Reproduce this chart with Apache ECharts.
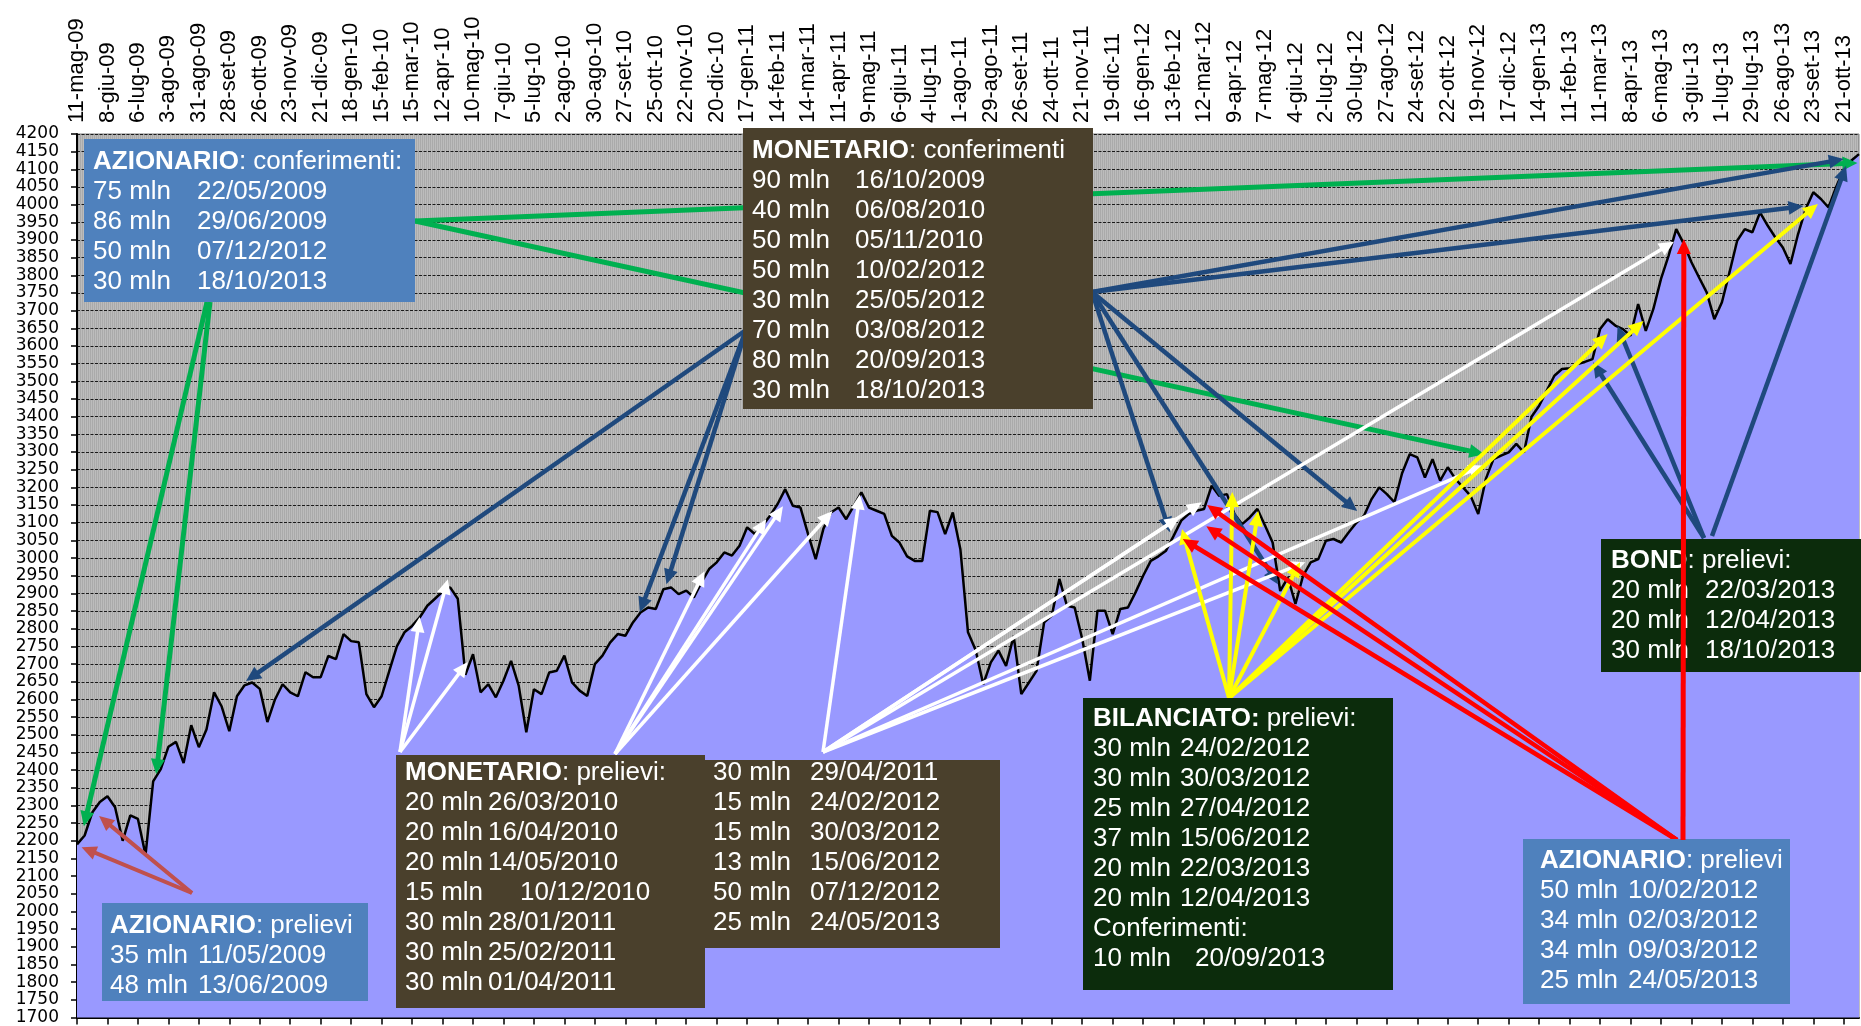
<!DOCTYPE html>
<html><head><meta charset="utf-8">
<script src="https://cdn.jsdelivr.net/npm/echarts@6/dist/echarts.min.js"></script>
<style>html,body{margin:0;padding:0;background:#fff;}#c{width:1861px;height:1026px;}</style>
</head><body><div id="c"></div>
<script>
// ---------------- DATA ----------------
const startDateUTC = [2009, 4, 11];           // first weekly observation: 11-mag-09
const monthNames = ['gen','feb','mar','apr','mag','giu','lug','ago','set','ott','nov','dic'];
const yMin = 1700, yMax = 4200, yStep = 50;
const labelEvery = 4;                          // a tick label every 4 weeks

const weekValues = [
2190,2215,2280,2310,2326,2295,2200,2272,2262,2160,
2368,2403,2466,2480,2420,2527,2465,2515,2620,2580,
2510,2609,2640,2648,2630,2536,2600,2643,2620,2609,
2677,2663,2663,2723,2714,2785,2765,2762,2615,2578,
2609,2680,2750,2790,2808,2832,2865,2885,2905,2917,
2885,2670,2728,2620,2643,2606,2653,2709,2639,2507,
2629,2615,2676,2681,2724,2648,2625,2610,2700,2724,
2761,2785,2780,2818,2846,2860,2856,2912,2917,2898,
2908,2889,2931,2969,2988,3016,3007,3035,3087,3068,
3091,3120,3153,3195,3148,3143,3068,2997,3082,3129,
3143,3110,3148,3186,3143,3134,3125,3063,3044,3005,
2992,2992,3134,3130,3068,3129,3025,2790,2740,2643,
2705,2738,2695,2780,2615,2648,2681,2818,2837,2941,
2865,2860,2771,2653,2851,2851,2785,2856,2860,2903,
2950,2992,3005,3021,3063,3106,3125,3134,3139,3205,
3176,3181,3124,3096,3115,3139,3092,3044,2907,2945,
2870,2950,2988,2997,3049,3054,3044,3073,3100,3120,
3167,3200,3181,3158,3240,3294,3285,3228,3280,3219,
3257,3224,3200,3176,3125,3224,3280,3290,3299,3323,
3299,3400,3431,3474,3516,3535,3537,3549,3555,3563,
3648,3676,3658,3648,3629,3719,3643,3705,3790,3856,
3931,3889,3837,3794,3752,3676,3724,3809,3898,3931,
3922,3978,3941,3908,3879,3832,3917,3988,4035,4016,
3992,4050,4100,4125,4143
];

// annotation box texts
const azConfTitle = ['AZIONARIO', ': conferimenti:'];
const azConfRows = [['75 mln','22/05/2009'],['86 mln','29/06/2009'],['50 mln','07/12/2012'],['30 mln','18/10/2013']];
const azPrelTitle = ['AZIONARIO', ': prelievi'];
const azPrelRows = [['35 mln','11/05/2009'],['48 mln','13/06/2009']];
const monConfTitle = ['MONETARIO', ': conferimenti'];
const monConfRows = [['90 mln','16/10/2009'],['40 mln','06/08/2010'],['50 mln','05/11/2010'],['50 mln','10/02/2012'],['30 mln','25/05/2012'],['70 mln','03/08/2012'],['80 mln','20/09/2013'],['30 mln','18/10/2013']];
const monPrelTitle = ['MONETARIO', ': prelievi:'];
const monPrelRows = [['20 mln','26/03/2010'],['20 mln','16/04/2010'],['20 mln','14/05/2010'],['15 mln','10/12/2010'],['30 mln','28/01/2011'],['30 mln','25/02/2011'],['30 mln','01/04/2011']];
const monPrel2Rows = [['30 mln','29/04/2011'],['15 mln','24/02/2012'],['15 mln','30/03/2012'],['13 mln','15/06/2012'],['50 mln','07/12/2012'],['25 mln','24/05/2013']];
const bilTitle = ['BILANCIATO:', ' prelievi:'];
const bilRows = [['30 mln','24/02/2012'],['30 mln','30/03/2012'],['25 mln','27/04/2012'],['37 mln','15/06/2012'],['20 mln','22/03/2013'],['20 mln','12/04/2013'],['Conferimenti:',''],['10 mln','20/09/2013']];
const bondTitle = ['BOND', ': prelievi:'];
const bondRows = [['20 mln','22/03/2013'],['20 mln','12/04/2013'],['30 mln','18/10/2013']];
const azPrel2Title = ['AZIONARIO', ': prelievi'];
const azPrel2Rows = [['50 mln','10/02/2012'],['34 mln','02/03/2012'],['34 mln','09/03/2012'],['25 mln','24/05/2013']];

// arrow targets in data space: [week index, value]
const salmonTargets = [[0.6,2182],[2.9,2270]];
const greenTargetsDown = [[0.9,2241],[10.4,2389]];
const greenTargetsRight = [[233.8,4118],[184.8,3294]];
const blueTargetsLeft = [[22.2,2652],[73.9,2847],[77.4,2926]];
const blueTargetsRight = [[232,4129],[226.7,3996],[168.1,3133],[157.7,2926],[143.5,3073]];
const bondTargets = [[199.1,3554],[202.3,3657],[232.3,4110]];
const redVerticalTarget = [211,3903];
const redTargets = [[145.2,3054],[148.4,3150],[148.3,3090]];
const whiteTargetsA = [[45,2833],[48.7,2940],[51.3,2706]];
const whiteTargetsB = [[82.4,2963],[90.5,3110],[92.7,3147],[99.2,3133]];
const whiteTargetsC = [[102.8,3180],[144.8,3116],[147.7,3158],[161.3,2988],[184.7,3262],[209.7,3895]];
const yellowTargets = [[145.1,3082],[151.7,3187],[155.1,3133],[160.6,2988],[201,3634],[205.7,3671],[228.6,4002]];

// ---------------- CHART ----------------
const categories = weekValues.map((_, i) => {
  const d = new Date(Date.UTC(startDateUTC[0], startDateUTC[1], startDateUTC[2]) + i * 7 * 86400000);
  return d.getUTCDate() + '-' + monthNames[d.getUTCMonth()] + '-' + String(d.getUTCFullYear()).slice(2);
});

const pc = document.createElement('canvas'); pc.width = 2; pc.height = 2;
const pg = pc.getContext('2d');
pg.fillStyle = '#bcbcbc'; pg.fillRect(0,0,2,2);
pg.fillStyle = '#aaaaaa'; pg.fillRect(0,0,1,2);

const AXFONT = '"DejaVu Sans", sans-serif';
const ARIAL = '"Liberation Sans", Arial, sans-serif';
const BOXFS = 26;
const chart = echarts.init(document.getElementById('c'), null, {renderer: 'canvas'});
chart.setOption({
  animation: false,
  backgroundColor: '#ffffff',
  grid: {left: 77, right: 2, top: 134, bottom: 7, show: true,
         backgroundColor: {image: pc, repeat: 'repeat'}, borderColor: '#7f7f7f', borderWidth: 1},
  xAxis: [
    {type: 'category', data: categories, boundaryGap: false, position: 'bottom',
     axisLine: {show: true, lineStyle: {color: '#000', width: 2}},
     axisTick: {show: true, interval: labelEvery - 1, length: 7, lineStyle: {color: '#000', width: 1.5}},
     axisLabel: {show: false}, splitLine: {show: false}},
    {type: 'category', data: categories, boundaryGap: false, position: 'top',
     axisLine: {show: false}, axisTick: {show: false}, splitLine: {show: false},
     axisLabel: {show: true, interval: labelEvery - 1, rotate: -90, margin: 11,
                 fontSize: 22, fontFamily: ARIAL, color: '#000'}},
    {type: 'value', min: 0, max: weekValues.length - 1, show: false}
  ],
  yAxis: {type: 'value', min: yMin, max: yMax, interval: yStep,
    axisLine: {show: true, lineStyle: {color: '#000', width: 2}},
    axisTick: {show: true, length: 6, lineStyle: {color: '#000', width: 1.5}},
    axisLabel: {fontSize: 17, lineHeight: 15, fontFamily: AXFONT, color: '#000', margin: 18, hideOverlap: false,
                showMinLabel: true, showMaxLabel: true, formatter: v => String(v)},
    splitLine: {show: true, lineStyle: {color: '#1a1a1a', width: 1, type: [3, 1.5]}}},
  series: [{
    type: 'line', xAxisIndex: 0, yAxisIndex: 0, data: weekValues, symbol: 'none',
    lineStyle: {color: '#000', width: 2.5}, areaStyle: {color: '#9999ff', opacity: 1},
    silent: true, z: 2
  }]
});

// ---------------- ANNOTATIONS ----------------
const els = [];
function px(d) { return chart.convertToPixel({xAxisIndex: 2, yAxisIndex: 0}, d); }
function arrow(start, target, color, width, z) {
  const p = px(target);
  const L = 15, W = 7;
  const dx = p[0] - start[0], dy = p[1] - start[1];
  const len = Math.hypot(dx, dy), ux = dx / len, uy = dy / len;
  const bx = p[0] - ux * L, by = p[1] - uy * L;
  els.push({type: 'line', silent: true, z: z,
    shape: {x1: start[0], y1: start[1], x2: bx + ux * 2, y2: by + uy * 2},
    style: {stroke: color, lineWidth: width, lineCap: 'butt'}});
  els.push({type: 'polygon', silent: true, z: z,
    shape: {points: [[p[0], p[1]], [bx - uy * W, by + ux * W], [bx + uy * W, by - ux * W]]},
    style: {fill: color}});
}

const GREEN = '#00b050', NAVY = '#1f497d', RED = '#ff0000', SALMON = '#c0504d', WHITE = '#ffffff', YELLOW = '#ffff00';
salmonTargets.forEach(t => arrow([192, 893], t, SALMON, 4, 10));
greenTargetsDown.forEach((t, k) => arrow([207 + k * 3, 302], t, GREEN, 5, 10));
greenTargetsRight.forEach(t => arrow([415, 221], t, GREEN, 5, 10));
blueTargetsLeft.forEach(t => arrow([746, 330], t, NAVY, 4.5, 11));
blueTargetsRight.forEach(t => arrow([1092, 292], t, NAVY, 4.5, 11));
bondTargets.forEach((t, k) => arrow(k < 2 ? [1704, 538] : [1712, 536], t, NAVY, 4.5, 11));
whiteTargetsA.forEach(t => arrow([400, 752], t, WHITE, 3.5, 12));
whiteTargetsB.forEach(t => arrow([615, 754], t, WHITE, 3.5, 12));
whiteTargetsC.forEach(t => arrow([823, 752], t, WHITE, 3.5, 12));
yellowTargets.forEach(t => arrow([1229, 698], t, YELLOW, 4, 13));
redTargets.forEach(t => arrow([1677, 840], t, RED, 4.5, 14));

// boxes
const BOXZ = 20;
function box(rect, color) {
  els.push({type: 'rect', silent: true, z: BOXZ, shape: {x: rect[0], y: rect[1], width: rect[2] - rect[0], height: rect[3] - rect[1]},
    style: {fill: color}});
}
function txt(x, y, s) {
  els.push({type: 'text', silent: true, z: BOXZ + 1, x: x, y: y,
    style: {text: s, fill: '#fff', font: BOXFS + 'px ' + ARIAL, textAlign: 'left', textVerticalAlign: 'middle'}});
}
function title(x, y, t) {
  els.push({type: 'text', silent: true, z: BOXZ + 1, x: x, y: y,
    style: {text: '{b|' + t[0] + '}{n|' + t[1] + '}', textAlign: 'left', textVerticalAlign: 'middle',
      rich: {b: {fontWeight: 'bold', fontSize: BOXFS, fontFamily: ARIAL, fill: '#fff'},
             n: {fontSize: BOXFS, fontFamily: ARIAL, fill: '#fff'}}}});
}
function rows(list, x1, x2, y0, extra) {
  list.forEach((r, k) => {
    txt(x1, y0 + k * 30, r[0]);
    if (r[1]) txt((extra && extra[k]) ? extra[k] : x2, y0 + k * 30, r[1]);
  });
}
const BLUE = '#4f81bd', BROWN = '#4a402c', DKGREEN = '#0c2c0c';
box([84, 139, 415, 302], BLUE);  title(93, 162, azConfTitle); rows(azConfRows, 93, 197, 192);
box([102, 903, 368, 1001], BLUE); title(110, 926, azPrelTitle); rows(azPrelRows, 110, 198, 956);
box([743, 128, 1093, 409], BROWN); title(752, 151, monConfTitle); rows(monConfRows, 752, 855, 181);
box([396, 755, 705, 1008], BROWN); title(405, 773, monPrelTitle); rows(monPrelRows, 405, 488, 803, {3: 520});
box([705, 760, 1000, 948], BROWN); rows(monPrel2Rows, 713, 810, 773);
box([1083, 698, 1393, 990], DKGREEN); title(1093, 719, bilTitle); rows(bilRows, 1093, 1180, 749, {7: 1195});
box([1601, 539, 1870, 672], DKGREEN); title(1611, 561, bondTitle); rows(bondRows, 1611, 1705, 591);
box([1523, 839, 1790, 1004], BLUE); title(1540, 861, azPrel2Title); rows(azPrel2Rows, 1540, 1628, 891);

// vertical red arrow drawn over the BOND box
arrow([1683, 840], redVerticalTarget, RED, 5, 30);

chart.setOption({graphic: {elements: els}});
</script>
</body></html>
